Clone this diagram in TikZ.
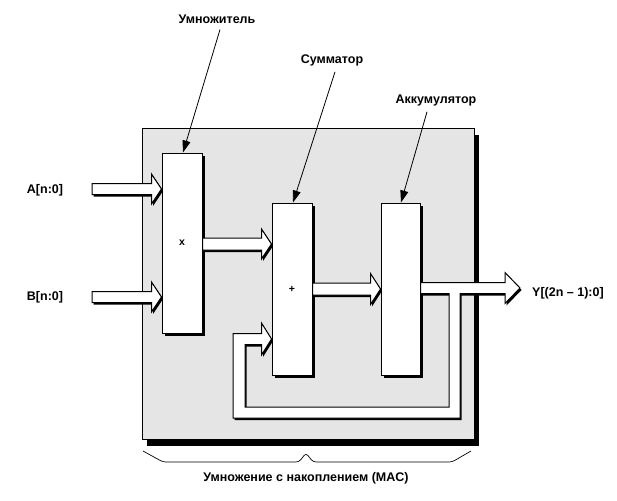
\documentclass[tikz,border=0pt]{standalone}
\usepackage{fontspec}
\setmainfont{Liberation Sans}
\usetikzlibrary{calc,arrows.meta,shadows}
\newcommand\hollowarrow[4]{% start, tip, shaft half width, head half height
  \fill[shade] ($(#1)+(0,-#3)$) -- ($(#2)+(-10,-#3)$) -- ($(#2)+(-10,-#4)$) -- (#2) -- ($(#2)+(-10,#4)$) -- ($(#2)+(-10,#3)$) -- ($(#1)+(0,#3)$) -- cycle;
  \path[hollow] ($(#1)+(0,-#3)$) -- ($(#2)+(-10,-#3)$) -- ($(#2)+(-10,-#4)$) -- (#2) -- ($(#2)+(-10,#4)$) -- ($(#2)+(-10,#3)$) -- ($(#1)+(0,#3)$) -- cycle;
}
\begin{document}
\begin{tikzpicture}[x=1pt,y=-1pt,
  lbl/.style={font=\bfseries\fontsize{12.5}{14}\selectfont, inner sep=0pt},
  panelbox/.style={draw=black, line width=1pt, fill=black!10, inner sep=0pt,
    minimum width=332pt, minimum height=311pt,
    drop shadow={shadow xshift=5pt, shadow yshift=-7pt, fill=black, opacity=1}},
  blockbox/.style={draw=black, line width=1pt, fill=white, minimum width=40pt, inner sep=0pt,
    font=\bfseries\fontsize{10.5}{12}\selectfont,
    drop shadow={shadow xshift=3pt, shadow yshift=-3pt, fill=black, opacity=1}},
  pointer/.style={line width=0.8pt, -{Triangle[length=12pt,width=8pt]}},
  hollow/.style={draw=black, line width=1pt, fill=white, line join=miter},
  shade/.style={fill=black, transform canvas={shift={(1.5pt,-2pt)}}}
]
\useasboundingbox[fill=white] (0,0) rectangle (617,500);

% panel
\node[panelbox] (panel) at (308,283.5) {};

% blocks
\node[blockbox, minimum height=180pt] (mul) at (182,243) {x};
\node[blockbox, minimum height=172pt] (add) at (292,289) {+};
\node[blockbox, minimum height=172pt, minimum width=39pt] (acc) at (400.5,289) {};

% coordinates for arrows
\coordinate (aS) at (92,189);  \coordinate (aT) at (mul.west |- aS);
\coordinate (bS) at (92,297);  \coordinate (bT) at (mul.west |- bS);
\coordinate (mS) at (mul.east |- 0,244); \coordinate (mT) at (add.west |- mS);
\coordinate (sS) at (add.east |- 0,289); \coordinate (sT) at (acc.west |- sS);
\coordinate (oS) at (acc.east |- 0,288); \coordinate (oT) at (520,288);
\coordinate (fT) at (add.west |- 0,339);

\hollowarrow{aS}{aT}{5.5}{15}
\hollowarrow{bS}{bT}{5.5}{15}
\hollowarrow{mS}{mT}{6}{15}
\hollowarrow{sS}{sT}{6}{15.5}

% output with feedback loop
\fill[shade] ($(oS)+(0,-5.5)$) -- (505,282.5) -- (505,272.5) -- (oT) -- (505,303.5) -- (505,293.5)
  -- (460,293.5) -- (460,418) -- (233,418) -- (233,333.5) -- ($(fT)+(-10,-5.5)$) -- ($(fT)+(-10,-16)$)
  -- (fT) -- ($(fT)+(-10,16)$) -- ($(fT)+(-10,5.5)$) -- (245,344.5) -- (245,407) -- (449,407)
  -- (449,293.5) -- ($(oS)+(0,5.5)$) -- cycle;
\path[hollow] ($(oS)+(0,-5.5)$) -- (505,282.5) -- (505,272.5) -- (oT) -- (505,303.5) -- (505,293.5)
  -- (460,293.5) -- (460,418) -- (233,418) -- (233,333.5) -- ($(fT)+(-10,-5.5)$) -- ($(fT)+(-10,-16)$)
  -- (fT) -- ($(fT)+(-10,16)$) -- ($(fT)+(-10,5.5)$) -- (245,344.5) -- (245,407) -- (449,407)
  -- (449,293.5) -- ($(oS)+(0,5.5)$) -- cycle;

% labels
\node[lbl] (la) at (45,190) {A[n:0]};
\node[lbl] (lb) at (45,297) {B[n:0]};
\node[lbl] (ly) at (568,293) {Y[(2n – 1):0]};

\node[lbl] (lm) at (217,19) {Умножитель};
\node[lbl] (ls) at (332,60) {Сумматор};
\node[lbl] (lc) at (436,100) {Аккумулятор};

\draw[pointer] ($(lm.south)+(3,6)$) -- (183,0 |- mul.north);
\draw[pointer] ($(ls.south)+(3,6)$) -- (293,0 |- add.north);
\draw[pointer] ($(lc.south)+(-9,6)$) -- (401,0 |- acc.north);

% brace
\coordinate (brL) at (143,451);
\coordinate (brR) at (471,451);
\draw[line width=0.7pt, rounded corners=3pt] (brL) -- (163,462) -- (299,462) -- (306,453) -- (313,462) -- (452,462) -- (brR);

\node[lbl] (cap) at (306,478) {Умножение с накоплением (MAC)};
\end{tikzpicture}
\end{document}
